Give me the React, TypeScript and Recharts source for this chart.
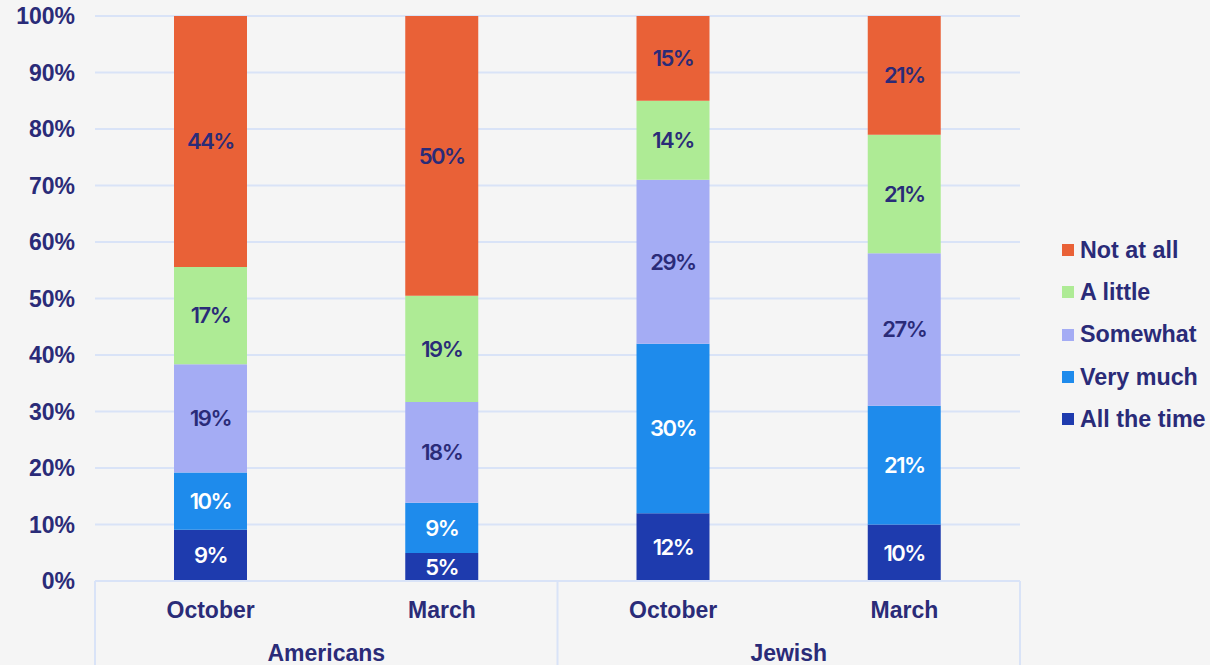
import { Bar, BarChart, CartesianGrid, LabelList, XAxis, YAxis } from "recharts";

const months = ["October", "March", "October", "March"];
const groups = ["Americans", "Americans", "Jewish", "Jewish"];

const allTheTime = [9, 5, 12, 10];
const veryMuch = [10, 9, 30, 21];
const somewhat = [19, 18, 29, 27];
const aLittle = [17, 19, 14, 21];
const notAtAll = [44, 50, 15, 21];

const yTicks = [0, 0.1, 0.2, 0.3, 0.4, 0.5, 0.6, 0.7, 0.8, 0.9, 1];

const series = [
  { key: "allTheTime", name: "All the time", color: "#1e3bae", label: "#ffffff" },
  { key: "veryMuch", name: "Very much", color: "#1e8bec", label: "#ffffff" },
  { key: "somewhat", name: "Somewhat", color: "#a4acf4", label: "#2a2b78" },
  { key: "aLittle", name: "A little", color: "#aeeb95", label: "#2a2b78" },
  { key: "notAtAll", name: "Not at all", color: "#e96137", label: "#2a2b78" },
];

const data = months.map((month, i) => ({
  month,
  group: groups[i],
  allTheTime: allTheTime[i],
  veryMuch: veryMuch[i],
  somewhat: somewhat[i],
  aLittle: aLittle[i],
  notAtAll: notAtAll[i],
}));

const W = 1210;
const H = 665;
const margin = { top: 16, right: 190, bottom: 0, left: 0 };
const yWidth = 95;
const catW = (W - margin.left - margin.right - yWidth) / months.length;

const navy = "#2a2b78";
const gridColor = "#d9e3f7";
const axisFont = "'Liberation Sans', Arial, sans-serif";

function MonthTick(props: any) {
  const { x, y, index, payload } = props;
  const left = x - catW / 2;
  return (
    <g>
      <text x={x} y={y + 37} textAnchor="middle" fill={navy} fontFamily={axisFont} fontWeight={700} fontSize={23}>
        {payload.value}
      </text>
      {index % 2 === 0 && (
        <>
          <line x1={left} x2={left} y1={y} y2={y + 90} stroke={gridColor} strokeWidth={2} />
          <text x={left + catW} y={y + 80} textAnchor="middle" fill={navy} fontFamily={axisFont} fontWeight={700} fontSize={23}>
            {groups[index]}
          </text>
        </>
      )}
      {index === months.length - 1 && (
        <line x1={x + catW / 2} x2={x + catW / 2} y1={y} y2={y + 90} stroke={gridColor} strokeWidth={2} />
      )}
    </g>
  );
}

function LegendBox() {
  return (
    <div
      style={{
        position: "absolute",
        left: 1062,
        top: 229,
        fontFamily: axisFont,
        fontWeight: 700,
        fontSize: 23.3,
        color: navy,
        whiteSpace: "nowrap",
      }}
    >
      {[...series].reverse().map((s) => (
        <div key={s.key} style={{ display: "flex", alignItems: "center", height: 42.3 }}>
          <span style={{ width: 12, height: 12, background: s.color, marginRight: 6, display: "inline-block" }} />
          <span>{s.name}</span>
        </div>
      ))}
    </div>
  );
}

export default function App() {
  return (
    <div style={{ position: "absolute", left: 0, top: 0, width: W, height: H, background: "#f5f5f5", overflow: "hidden" }}>
      <BarChart width={W} height={H} data={data} margin={margin} stackOffset="expand" barSize={73}>
        <CartesianGrid horizontal vertical={false} stroke={gridColor} strokeWidth={2} />
        <XAxis
          dataKey="month"
          interval={0}
          tickLine={false}
          tickSize={0}
          tickMargin={0}
          height={84}
          axisLine={{ stroke: gridColor, strokeWidth: 2 }}
          tick={<MonthTick />}
        />
        <YAxis
          width={yWidth}
          ticks={yTicks}
          domain={[0, 1]}
          axisLine={false}
          tickLine={false}
          tickSize={0}
          tickMargin={20}
          tickFormatter={(v: number) => `${Math.round(v * 100)}%`}
          tick={{ fill: navy, fontFamily: axisFont, fontWeight: 700, fontSize: 23 }}
        />
        {series.map((s) => (
          <Bar key={s.key} dataKey={s.key} name={s.name} stackId="a" fill={s.color} isAnimationActive={false}>
            <LabelList
              dataKey={s.key}
              position="center"
              formatter={(v: any) => `${v}%`}
              fill={s.label}
              fontFamily="Inter, sans-serif"
              fontWeight={600}
              fontSize={22}
              letterSpacing={-1.5}
            />
          </Bar>
        ))}
      </BarChart>
      <LegendBox />
    </div>
  );
}
